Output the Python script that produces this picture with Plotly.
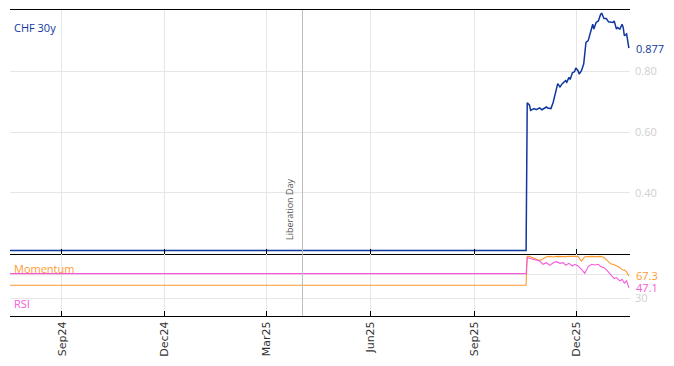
import plotly.graph_objects as go

# ---- data ----
price_dates = ["2024-07-17", "2025-10-17", "2025-10-18", "2025-10-20", "2025-10-21", "2025-10-24",
               "2025-10-26", "2025-10-29", "2025-10-31", "2025-11-02", "2025-11-04", "2025-11-05",
               "2025-11-08", "2025-11-10", "2025-11-12", "2025-11-14", "2025-11-16", "2025-11-18",
               "2025-11-21", "2025-11-22", "2025-11-24", "2025-11-25", "2025-11-27", "2025-11-29",
               "2025-11-30", "2025-12-02", "2025-12-03", "2025-12-05", "2025-12-07", "2025-12-08",
               "2025-12-09", "2025-12-11", "2025-12-13", "2025-12-15", "2025-12-16", "2025-12-18",
               "2025-12-20", "2025-12-22", "2025-12-23", "2025-12-25", "2025-12-27", "2025-12-29",
               "2026-01-02", "2026-01-03", "2026-01-05", "2026-01-06", "2026-01-08", "2026-01-10",
               "2026-01-11", "2026-01-12", "2026-01-14", "2026-01-15", "2026-01-16"]
price_vals = [0.210, 0.210, 0.697, 0.689, 0.672, 0.678,
              0.674, 0.680, 0.674, 0.678, 0.683, 0.680,
              0.678, 0.699, 0.732, 0.760, 0.749, 0.760,
              0.770, 0.765, 0.781, 0.774, 0.796, 0.800,
              0.812, 0.803, 0.792, 0.803, 0.825, 0.852,
              0.896, 0.902, 0.934, 0.956, 0.940, 0.962,
              0.967, 0.989, 0.992, 0.975, 0.975, 0.964,
              0.962, 0.967, 0.940, 0.945, 0.940, 0.956,
              0.945, 0.918, 0.924, 0.902, 0.877]

osc_dates = ["2024-07-17", "2025-10-17", "2025-10-18", "2025-10-20", "2025-10-23", "2025-10-26",
             "2025-10-29", "2025-11-01", "2025-11-04", "2025-11-07", "2025-11-10", "2025-11-13",
             "2025-11-16", "2025-11-19", "2025-11-21", "2025-11-24", "2025-11-27", "2025-11-29",
             "2025-12-02", "2025-12-05", "2025-12-08", "2025-12-11", "2025-12-14", "2025-12-17",
             "2025-12-20", "2025-12-22", "2025-12-25", "2025-12-28", "2025-12-31", "2026-01-03",
             "2026-01-05", "2026-01-08", "2026-01-10", "2026-01-12", "2026-01-14", "2026-01-16"]
rsi_vals = [71, 71, 97.8, 97, 95, 93.3, 92.2, 86.7, 89.4, 85,
            89.4, 91.1, 88.3, 89.4, 85, 88.3, 83.9, 86.7, 83.9, 78.3,
            71.7, 82.8, 86.7, 85.6, 86.7, 82.8, 81.1, 75.6, 68.3, 62.8,
            64.4, 58.9, 61.7, 55, 58.9, 47.1]
mom_vals = [51.5, 51.5, 100, 100, 97.8, 96, 93, 96, 99.4, 100,
            99, 100, 99.5, 100, 99.5, 100, 99.5, 100, 100, 92,
            99.4, 100, 100, 99.5, 100, 100, 98, 92.5, 87.5, 86,
            84, 81.5, 77.5, 77, 74, 67.3]

price_ticks = [0.40, 0.60, 0.80]
price_ticktext = ["0.40", "0.60", "0.80"]
osc_ticks = [30, 70]
osc_ticktext = ["30", ""]
event_date = "2025-04-02"
event_label = "Liberation Day"

BLUE = "#0f37a0"
ORANGE = "#ff9a2e"
PINK = "#f55ad8"
GRID = "#e6e6e6"
TICKGRAY = "#cfcfcf"
FONT = "Open Sans"

fig = go.Figure()
fig.add_trace(go.Scatter(x=price_dates, y=price_vals, mode="lines",
                         line=dict(color=BLUE, width=1.5), xaxis="x", yaxis="y"))
fig.add_trace(go.Scatter(x=osc_dates, y=mom_vals, mode="lines",
                         line=dict(color=ORANGE, width=1.1), xaxis="x2", yaxis="y2"))
fig.add_trace(go.Scatter(x=osc_dates, y=rsi_vals, mode="lines",
                         line=dict(color=PINK, width=1.1), xaxis="x2", yaxis="y2"))

split = 62 / 308
xr = ["2024-07-17", "2026-01-17"]
common_x = dict(range=xr, type="date", showgrid=True, gridcolor=GRID, gridwidth=1,
                showline=True, linecolor="black", linewidth=1,
                ticks="inside", ticklen=5, tickcolor="black",
                tick0="2024-09-01", dtick="M3", zeroline=False)

fig.update_layout(
    width=674, height=366,
    margin=dict(l=10, r=44, t=9, b=49),
    paper_bgcolor="white", plot_bgcolor="white",
    showlegend=False,
    font=dict(family=FONT, size=11, color="#333333"),
    xaxis=dict(**common_x, anchor="y", domain=[0, 1], showticklabels=False,
               mirror=True, matches="x2"),
    yaxis=dict(domain=[split, 1], range=[0.197, 1.003], side="right",
               tickvals=price_ticks, ticktext=price_ticktext,
               tickfont=dict(color=TICKGRAY, size=11, family=FONT),
               showgrid=True, gridcolor=GRID, zeroline=False, showline=False,
               ticks="", ticklabelstandoff=4),
    xaxis2=dict(**common_x, anchor="y2", domain=[0, 1], showticklabels=True,
                tickformat="%b%y", tickangle=-90,
                tickfont=dict(size=11, color="#333333", family="DejaVu Sans")),
    yaxis2=dict(domain=[0, split], range=[0, 103.3], side="right",
                tickvals=osc_ticks, ticktext=osc_ticktext,
                tickfont=dict(color=TICKGRAY, size=11, family=FONT),
                showgrid=True, gridcolor=GRID, zeroline=False, showline=False,
                ticks="", ticklabelstandoff=4),
)

fig.add_shape(type="line", xref="x", yref="paper", x0=event_date, x1=event_date,
              y0=0, y1=1, line=dict(color="#bdbdbd", width=1), layer="above")

fig.add_annotation(x=event_date, xref="x", y=(317 - 243) / 308, yref="paper",
                   text=event_label, textangle=-90, showarrow=False,
                   xanchor="right", yanchor="bottom", xshift=-4,
                   font=dict(size=9, color="#555555", family=FONT))

# series labels
fig.add_annotation(x=0, xref="paper", y=1, yref="paper", text="CHF 30y", showarrow=False,
                   xanchor="left", yanchor="top", xshift=2, yshift=-8,
                   font=dict(size=11, color=BLUE, family=FONT))
fig.add_annotation(x=0, xref="paper", y=split, yref="paper", text="Momentum", showarrow=False,
                   xanchor="left", yanchor="top", xshift=2, yshift=-5,
                   font=dict(size=11, color=ORANGE, family=FONT))
fig.add_annotation(x=0, xref="paper", y=0, yref="paper", text="RSI", showarrow=False,
                   xanchor="left", yanchor="bottom", xshift=2, yshift=3,
                   font=dict(size=11, color=PINK, family=FONT))

# last value labels
fig.add_annotation(x=1, xref="paper", y=price_vals[-1], yref="y", text=f"{price_vals[-1]:.3f}",
                   showarrow=False, xanchor="left", xshift=4,
                   font=dict(size=11, color=BLUE, family=FONT))
fig.add_annotation(x=1, xref="paper", y=mom_vals[-1], yref="y2", text=f"{mom_vals[-1]:.1f}",
                   showarrow=False, xanchor="left", xshift=4,
                   font=dict(size=11, color=ORANGE, family=FONT))
fig.add_annotation(x=1, xref="paper", y=rsi_vals[-1], yref="y2", text=f"{rsi_vals[-1]:.1f}",
                   showarrow=False, xanchor="left", xshift=4,
                   font=dict(size=11, color=PINK, family=FONT))

fig.write_html("out.html")
